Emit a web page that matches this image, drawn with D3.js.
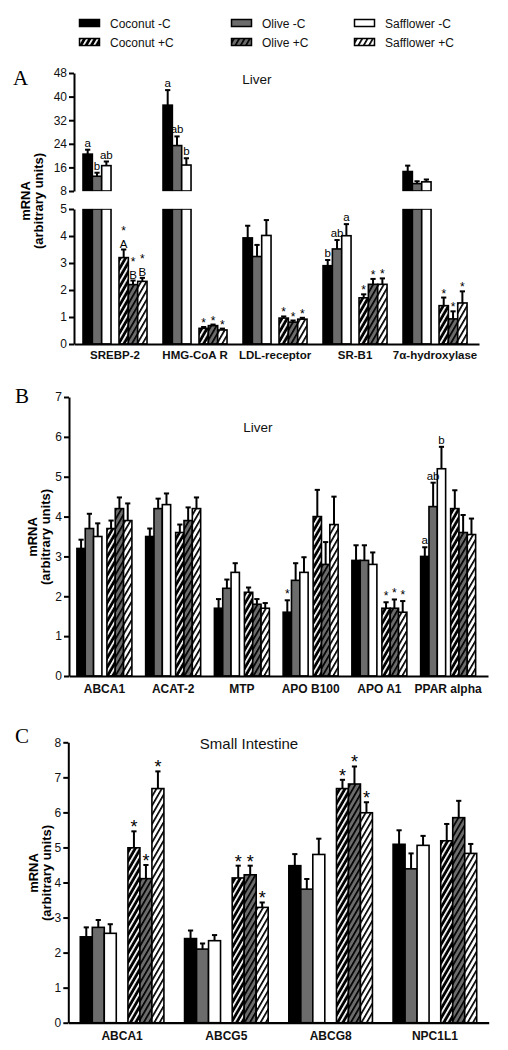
<!DOCTYPE html>
<html><head><meta charset="utf-8">
<script src="https://cdn.jsdelivr.net/npm/d3@7"></script>
<style>
body{margin:0;background:#fff}
svg{display:block;font-family:"Liberation Sans",Arial,sans-serif}
</style>
</head><body>
<svg id="chart" width="508" height="1050"></svg>
<script>
// ---------- shared ----------
const seriesNames = ["Coconut -C","Olive -C","Safflower -C","Coconut +C","Olive +C","Safflower +C"];
const conditions = ["-C","+C"];
const oils = ["Coconut","Olive","Safflower"];

// ---------- Panel A (Liver, broken axis) ----------
const genesA = ["SREBP-2","HMG-CoA R","LDL-receptor","SR-B1","7α-hydroxylase"];
const coconutMinusA = [20.5, 37.1, 3.93, 2.90, 14.6];
const oliveMinusA   = [13.0, 23.4, 3.24, 3.52, 10.5];
const safflowerMinusA = [16.6, 16.8, 4.02, 4.01, 11.1];
const coconutPlusA  = [3.20, 0.58, 0.96, 1.71, 1.42];
const olivePlusA    = [2.20, 0.68, 0.81, 2.21, 0.93];
const safflowerPlusA = [2.32, 0.52, 0.92, 2.21, 1.52];
const coconutMinusErrA = [1.5, 5.1, 0.45, 0.21, 2.0];
const oliveMinusErrA   = [1.2, 3.1, 0.43, 0.33, 0.8];
const safflowerMinusErrA = [1.4, 2.3, 0.57, 0.43, 0.8];
const coconutPlusErrA  = [0.30, 0.05, 0.06, 0.13, 0.30];
const olivePlusErrA    = [0.15, 0.04, 0.06, 0.20, 0.28];
const safflowerPlusErrA = [0.13, 0.05, 0.05, 0.22, 0.43];
const labelsA = [
  ["a","b","ab",["*","A"],["*","B"],["*","B"]],
  ["a","ab","b","*","*","*"],
  ["","","","*","*","*"],
  ["b","ab","a","*","*","*"],
  ["","","","*","*","*"]
];
const ticksAHigh = [8,16,24,32,40,48];
const ticksALow = [0,1,2,3,4,5];

// ---------- Panel B (Liver) ----------
const genesB = ["ABCA1","ACAT-2","MTP","APO B100","APO A1","PPAR alpha"];
const coconutMinusB = [3.2, 3.5, 1.7, 1.6, 2.9, 3.0];
const oliveMinusB   = [3.7, 4.2, 2.2, 2.4, 2.9, 4.25];
const safflowerMinusB = [3.5, 4.3, 2.6, 2.6, 2.8, 5.2];
const coconutPlusB  = [3.7, 3.6, 2.1, 4.0, 1.7, 4.2];
const olivePlusB    = [4.2, 3.9, 1.8, 2.8, 1.7, 3.6];
const safflowerPlusB = [3.9, 4.2, 1.7, 3.8, 1.6, 3.55];
const coconutMinusErrB = [0.22, 0.20, 0.23, 0.30, 0.38, 0.23];
const oliveMinusErrB   = [0.37, 0.25, 0.22, 0.43, 0.38, 0.60];
const safflowerMinusErrB = [0.33, 0.28, 0.23, 0.38, 0.30, 0.55];
const coconutPlusErrB  = [0.20, 0.20, 0.12, 0.67, 0.15, 0.46];
const olivePlusErrB    = [0.28, 0.33, 0.13, 0.56, 0.22, 0.44];
const safflowerPlusErrB = [0.43, 0.28, 0.13, 0.70, 0.28, 0.40];
const labelsB = [
  ["","","","","",""],
  ["","","","","",""],
  ["","","","","",""],
  ["*","","","","",""],
  ["","","","*","*","*"],
  ["a","ab","b","","",""]
];
const ticksB = [0,1,2,3,4,5,6,7];

// ---------- Panel C (Small Intestine) ----------
const genesC = ["ABCA1","ABCG5","ABCG8","NPC1L1"];
const coconutMinusC = [2.45, 2.40, 4.48, 5.09];
const oliveMinusC   = [2.72, 2.10, 3.81, 4.39];
const safflowerMinusC = [2.55, 2.34, 4.80, 5.06];
const coconutPlusC  = [4.99, 4.13, 6.68, 5.19];
const olivePlusC    = [4.11, 4.22, 6.81, 5.85];
const safflowerPlusC = [6.68, 3.29, 5.99, 4.83];
const coconutMinusErrC = [0.27, 0.23, 0.33, 0.40];
const oliveMinusErrC   = [0.21, 0.16, 0.29, 0.44];
const safflowerMinusErrC = [0.26, 0.16, 0.45, 0.27];
const coconutPlusErrC  = [0.47, 0.35, 0.25, 0.48];
const olivePlusErrC    = [0.39, 0.26, 0.50, 0.48];
const safflowerPlusErrC = [0.49, 0.14, 0.30, 0.27];
const labelsC = [
  ["","","","*","*","*"],
  ["","","","*","*","*"],
  ["","","","*","*","*"],
  ["","","","","",""]
];
const ticksC = [0,1,2,3,4,5,6,7,8];

// ---------- drawing ----------
const svg = d3.select("#chart");
const defs = svg.append("defs");
const GRAY = "#6c6c6c";
const fills = ["#000", GRAY, "#fff", "url(#hCoco)", "url(#hOlive)", "url(#hSaff)"];
function hatch(id, bg, fg){
  const p = defs.append("pattern").attr("id", id).attr("patternUnits","userSpaceOnUse")
    .attr("width", 4.6).attr("height", 10).attr("patternTransform","rotate(30)");
  p.append("rect").attr("width",4.6).attr("height",10).attr("fill",bg);
  p.append("rect").attr("x",0).attr("width",1.7).attr("height",10).attr("fill",fg);
}
hatch("hCoco", "#000", "#fff");
hatch("hOlive", GRAY, "#000");
hatch("hSaff", "#fff", "#000");

function buildRows(genes, vals, errs){
  return genes.map((g, gi) => ({gene: g, bars: vals.map((s, si) => ({
    si, cond: conditions[Math.floor(si/3)], oil: oils[si%3], v: s[gi], e: errs[si][gi]}))}));
}

function drawPanel(p){
  const g = svg.append("g");
  const x0 = d3.scaleBand().domain(p.genes).range([p.axisX, p.xEnd])
    .paddingInner(p.pi).paddingOuter(p.po).align(p.align);
  const x1 = d3.scaleBand().domain(conditions).range([0, x0.bandwidth()]).paddingInner(p.ci);
  const x2 = d3.scaleBand().domain(oils).range([0, x1.bandwidth()]);
  const rows = buildRows(p.genes, p.vals, p.errs);
  const bx = (r, b) => x0(r.gene) + x1(b.cond) + x2(b.oil);
  const bw = x2.bandwidth();

  const yOf = v => (p.yHigh && v > p.breakLow) ? p.yHigh(v) : p.y(v);

  const bars = g.append("g");
  const labs = [];
  rows.forEach((r, ri) => {
    r.bars.forEach(b => {
      const x = bx(r, b);
      const segs = [];
      if (p.yHigh && b.v > p.breakLow){
        segs.push([p.y(p.breakLow), p.y(0)]);
        segs.push([p.yHigh(b.v), p.yHigh(p.breakHigh)]);
      } else segs.push([p.y(b.v), p.y(0)]);
      segs.forEach(s => bars.append("rect").attr("x", x).attr("y", s[0]).attr("width", bw)
        .attr("height", s[1]-s[0]).attr("fill", fills[b.si]).attr("stroke","#000").attr("stroke-width",1.6));
      const top = yOf(b.v), et = yOf(b.v + b.e), cx = x + bw/2;
      bars.append("line").attr("x1",cx).attr("x2",cx).attr("y1",top).attr("y2",et)
        .attr("stroke","#000").attr("stroke-width",2);
      bars.append("line").attr("x1",cx-2.6).attr("x2",cx+2.6).attr("y1",et).attr("y2",et)
        .attr("stroke","#000").attr("stroke-width",2);
      let lab = p.labels[ri][b.si];
      if (lab) labs.push({lines: Array.isArray(lab) ? lab : [lab], cx, et});
    });
  });

  if (p.yHigh){
    g.append("rect").attr("x", p.axisX+1).attr("width", p.xEnd - p.axisX)
      .attr("y", p.yHigh(p.breakHigh)+0.2).attr("height", p.y(p.breakLow) - p.yHigh(p.breakHigh) - 0.4)
      .attr("fill","#fff");
  }

  // significance labels
  labs.forEach(l => {
    const n = l.lines.length;
    if (n === 1){
      const s = l.lines[0], star = s === "*";
      g.append("text").attr("text-anchor","middle").attr("fill","#000").attr("x", l.cx)
        .attr("y", l.et - 3 + (star ? p.starDy : 0))
        .attr("font-size", star ? p.starSize : 11.5).text(s);
    } else {
      // stacked: lower letter just above the error cap, star above it
      l.lines.forEach((s, i) => {
        const k = n - 1 - i, star = s === "*";
        g.append("text").attr("text-anchor","middle").attr("fill","#000").attr("x", l.cx)
          .attr("y", l.et - 1.5 - k*13.5)
          .attr("font-size", star ? p.starSize : 11.5).text(s);
      });
    }
  });

  // y axes
  const mk = (sc, tv) => {
    const a = g.append("g").attr("transform", `translate(${p.axisX},0)`)
      .call(d3.axisLeft(sc).tickValues(tv).tickFormat(d3.format("d")).tickSize(5).tickSizeOuter(0).tickPadding(2));
    a.selectAll("path,line").attr("stroke","#000").attr("stroke-width",2);
    a.selectAll("text").attr("font-size",12).attr("font-family","Liberation Sans, Arial, sans-serif").attr("fill","#111");
  };
  mk(p.y, p.ticks);
  if (p.yHigh) mk(p.yHigh, p.ticksHigh);

  // x axis
  const xa = g.append("g").attr("transform", `translate(0,${p.y(0)})`)
    .call(d3.axisBottom(x0).tickSize(0).tickSizeOuter(0).tickPadding(p.labPad));
  xa.select("path").attr("stroke","#000").attr("stroke-width",2.2);
  xa.selectAll("text").attr("font-size", p.geneSize).attr("font-weight","bold")
    .attr("font-family","Liberation Sans, Arial, sans-serif").attr("fill","#111");

  // y label
  const yl = g.append("g").attr("transform", `translate(0,${p.ylabY})`);
  yl.append("text").attr("transform",`translate(${p.ylabX},0) rotate(-90)`).attr("text-anchor","middle")
    .attr("font-size",13).attr("font-weight","bold").text("mRNA");
  yl.append("text").attr("transform",`translate(${p.ylabX+12.5},0) rotate(-90)`).attr("text-anchor","middle")
    .attr("font-size",13).attr("font-weight","bold").text("(arbitrary units)");

  // panel letter and title
  g.append("text").attr("x", p.letterX).attr("y", p.letterY).attr("font-family","Liberation Serif, Times New Roman, serif")
    .attr("font-size",21).text(p.letter);
  g.append("text").attr("x", p.titleX).attr("y", p.titleY).attr("text-anchor","middle")
    .attr("font-size", p.titleSize).attr("fill","#111").text(p.title);
}

drawPanel({
  genes: genesA,
  vals: [coconutMinusA, oliveMinusA, safflowerMinusA, coconutPlusA, olivePlusA, safflowerPlusA],
  errs: [coconutMinusErrA, oliveMinusErrA, safflowerMinusErrA, coconutPlusErrA, olivePlusErrA, safflowerPlusErrA],
  labels: labelsA,
  axisX: 74, xEnd: 479, pi: 0.2, po: 0.131, align: 0.43, ci: 0.222,
  y: d3.scaleLinear().domain([0,5]).range([344, 209]),
  yHigh: d3.scaleLinear().domain([8,48]).range([191, 73]),
  breakLow: 5, breakHigh: 8,
  ticks: ticksALow, ticksHigh: ticksAHigh,
  starSize: 12, starDy: 3, labPad: 7, geneSize: 11.5,
  ylabX: 30, ylabY: 201,
  letter: "A", letterX: 13, letterY: 85,
  title: "Liver", titleX: 257, titleY: 84, titleSize: 13.5
});

drawPanel({
  genes: genesB,
  vals: [coconutMinusB, oliveMinusB, safflowerMinusB, coconutPlusB, olivePlusB, safflowerPlusB],
  errs: [coconutMinusErrB, oliveMinusErrB, safflowerMinusErrB, coconutPlusErrB, olivePlusErrB, safflowerPlusErrB],
  labels: labelsB,
  axisX: 69, xEnd: 488, pi: 0.2, po: 0.1475, align: 0.39, ci: 0.167,
  y: d3.scaleLinear().domain([0,7]).range([676, 397]),
  ticks: ticksB,
  starSize: 12, starDy: 1, labPad: 8, geneSize: 12,
  ylabX: 37, ylabY: 537,
  letter: "B", letterX: 15, letterY: 403,
  title: "Liver", titleX: 258, titleY: 432, titleSize: 13.5
});

drawPanel({
  genes: genesC,
  vals: [coconutMinusC, oliveMinusC, safflowerMinusC, coconutPlusC, olivePlusC, safflowerPlusC],
  errs: [coconutMinusErrC, oliveMinusErrC, safflowerMinusErrC, coconutPlusErrC, olivePlusErrC, safflowerPlusErrC],
  labels: labelsC,
  axisX: 68.3, xEnd: 488.7, pi: 0.198, po: 0.115, align: 0.5, ci: 0.245,
  y: d3.scaleLinear().domain([0,8]).range([1022.7, 742.3]),
  ticks: ticksC,
  starSize: 18, starDy: 5, labPad: 9, geneSize: 12,
  ylabX: 38, ylabY: 873,
  letter: "C", letterX: 15, letterY: 743,
  title: "Small Intestine", titleX: 249, titleY: 749, titleSize: 15
});

// ---------- legend ----------
const legX = [79, 231, 354], legY = [23, 42];
const leg = svg.append("g");
seriesNames.forEach((n, i) => {
  const col = i % 3, row = Math.floor(i / 3);
  const gg = leg.append("g").attr("transform", `translate(${legX[col]},${legY[row]})`);
  gg.append("rect").attr("x",0.5).attr("y",-3.5).attr("width",20).attr("height",7)
    .attr("fill", fills[i]).attr("stroke","#000").attr("stroke-width",1.5);
  gg.append("text").attr("x",31).attr("y",4.5).attr("font-size",12).attr("fill","#111").text(n);
});
</script>
</body></html>
